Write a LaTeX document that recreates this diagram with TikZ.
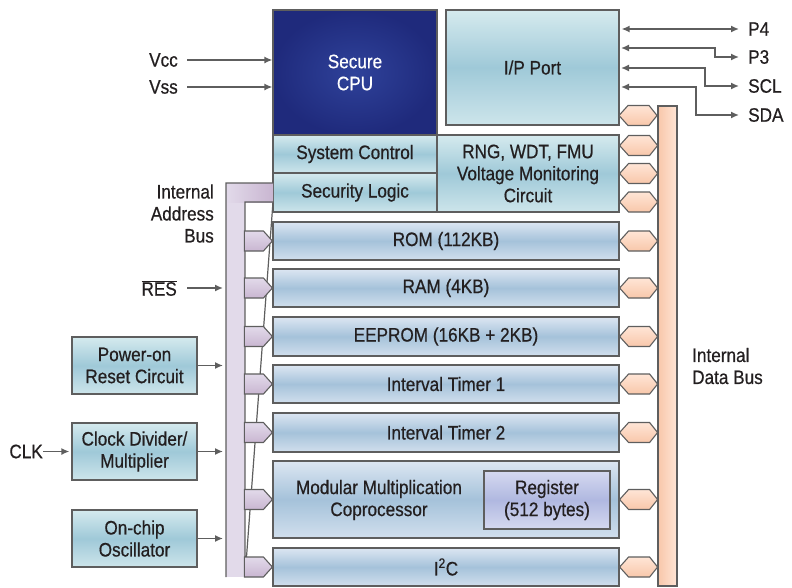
\documentclass[tikz,border=0pt]{standalone}
\usepackage{fontspec}
\setmainfont[FakeStretch=0.88, FakeBold=0.6]{Liberation Sans}
\usetikzlibrary{arrows.meta}

\definecolor{linegray}{HTML}{5E5E5E}
\definecolor{inkblack}{HTML}{231F20}
\definecolor{cpudark}{HTML}{1F2A7C}
\definecolor{cpulight}{HTML}{2F429A}
\definecolor{tealtop}{HTML}{D5EAEE}
\definecolor{tealmid}{HTML}{9FC9D8}
\definecolor{bluetop}{HTML}{DCE6F2}
\definecolor{bluemid}{HTML}{A5C2DA}
\definecolor{regtop}{HTML}{D5D9F0}
\definecolor{regmid}{HTML}{B0B8E0}
\definecolor{peachdark}{HTML}{F8C7AA}
\definecolor{peachlight}{HTML}{FFE5D6}
\definecolor{lilac}{HTML}{E2DAEA}
\definecolor{lilacdark}{HTML}{C9B6D1}

\tikzset{
  blk/.style={draw=linegray, line width=1.2pt, inner sep=0pt, align=center, text=inkblack},
  tealblk/.style={blk, top color=tealtop, bottom color=tealtop!85!tealmid, middle color=tealmid},
  rowblk/.style={blk, top color=bluetop, bottom color=bluetop!80!bluemid, middle color=bluemid,
    minimum width=346pt},
  regblk/.style={blk, top color=regtop, bottom color=regtop, middle color=regmid},
  lbl/.style={inner sep=0pt, text=inkblack, align=center},
  sig/.style={draw=linegray, line width=1.5pt, -{Latex[length=8pt,width=7pt]}},
  sigboth/.style={draw=linegray, line width=1.5pt, {Latex[length=8pt,width=7pt]}-{Latex[length=8pt,width=7pt]}},
  datahex/.style={draw=linegray, line width=1.1pt, top color=peachlight, bottom color=peachdark},
  addrtab/.style={draw=linegray, line width=1.1pt, top color=lilac, bottom color=lilacdark}
}

\begin{document}
\begin{tikzpicture}[x=1pt, y=-1pt, font=\fontsize{19.5}{22}\selectfont]
\useasboundingbox (0,0) rectangle (792,587);

% top blocks
\node[blk, draw=linegray, inner color=cpulight, outer color=cpudark, text=white,
  minimum width=164pt, minimum height=125pt] (cpu) at (355,72.5) {Secure\\CPU};
\node[tealblk, minimum width=164pt, minimum height=38pt] (sysctl) at (355,154) {System Control};
\node[tealblk, minimum width=164pt, minimum height=39pt] (seclogic) at (355,192.5) {Security Logic};
\node[tealblk, minimum width=182pt, minimum height=77pt] (rng) at (528,173.5)
  {RNG, WDT, FMU\\Voltage Monitoring\\Circuit};
\node[tealblk, minimum width=173pt, minimum height=115pt] (ipport) at (532.5,67.5) {I/P Port};

% memory and peripherals
\node[rowblk, minimum height=38pt] (rom) at (446,241) {ROM (112KB)};
\node[rowblk, minimum height=38pt] (ram) at (446,288) {RAM (4KB)};
\node[rowblk, minimum height=39pt] (eeprom) at (446,336.5) {EEPROM (16KB + 2KB)};
\node[rowblk, minimum height=38pt] (timer1) at (446,384) {Interval Timer 1};
\node[rowblk, minimum height=39pt] (timer2) at (446,432.5) {Interval Timer 2};
\node[rowblk, minimum height=77pt] (mmc) at (446,499.5) {};
\node[lbl] (mmctext) at (379,500) {Modular Multiplication\\Coprocessor};
\node[regblk, minimum width=126pt, minimum height=58pt] (reg) at (547,500) {Register\\(512 bytes)};
\node[rowblk, minimum height=38pt] (iic) at (446,567) {I\textsuperscript{2}C};

% clock and reset
\node[tealblk, minimum width=125pt, minimum height=57pt] (pwr) at (134.5,365.5) {Power-on\\Reset Circuit};
\node[tealblk, minimum width=125pt, minimum height=57pt] (clkdiv) at (134.5,451.5) {Clock Divider/\\Multiplier};
\node[tealblk, minimum width=125pt, minimum height=57pt] (osc) at (134.5,538.5) {On-chip\\Oscillator};

% internal address bus
\coordinate (abus) at (226,380);
\fill[lilac] (226,183) rectangle (245,577);
\shade[left color=lilac, right color=lilacdark] (226,183) rectangle (273,202);
\draw[linegray, line width=1.2pt] (226,577) -- (226,183) -- (273,183)
  (273,202) -- (245,202) -- (245,577) -- cycle;
\foreach \blk in {rom,ram,eeprom,timer1,timer2,mmc,iic}
  \draw[addrtab] (\blk.west) -- ++(-9,-10) -- ++(-19,0) -- ++(0,20) -- ++(19,0) -- cycle;

% internal data bus
\draw[linegray, line width=1.2pt, left color=peachdark, right color=peachlight] (658,106) rectangle (677,586);
\coordinate (hexio) at (619,115.5);
\draw[datahex] (hexio) -- ++(9,-10) -- ++(21,0) -- ++(8,10) -- ++(-8,10) -- ++(-21,0) -- cycle;
\foreach \dy in {-28.5,0,28}
  \draw[datahex] ([yshift=\dy pt]rng.east) -- ++(9,-10) -- ++(21,0) -- ++(8,10) -- ++(-8,10) -- ++(-21,0) -- cycle;
\foreach \blk in {rom,ram,eeprom,timer1,timer2,mmc,iic}
  \draw[datahex] (\blk.east) -- ++(9,-10) -- ++(21,0) -- ++(8,10) -- ++(-8,10) -- ++(-21,0) -- cycle;

% labels
\node[lbl, anchor=east, align=right] (abuslbl) at (214,213.5) {Internal\\Address\\Bus};
\node[lbl, anchor=west, align=left] (dbuslbl) at (692,366) {Internal\\Data Bus};
\node[lbl, anchor=east, inner xsep=9pt] (vcc) at (187,60) {Vcc};
\node[lbl, anchor=east, inner xsep=9pt] (vss) at (187,87) {Vss};
\node[lbl, anchor=east, inner xsep=10pt] (res) at (187,288) {$\overline{\mbox{RES}}$};
\node[lbl, anchor=east, inner xsep=0pt] (clk) at (43,451.5) {CLK};
\node[lbl, anchor=west, inner xsep=9pt] (p4) at (739,29) {P4};
\node[lbl, anchor=west, inner xsep=9pt] (p3) at (739,57) {P3};
\node[lbl, anchor=west, inner xsep=9pt] (scl) at (739,86) {SCL};
\node[lbl, anchor=west, inner xsep=9pt] (sda) at (739,115) {SDA};

% signals
\draw[sig] (vcc.east) -- (vcc.east -| cpu.west);
\draw[sig] (vss.east) -- (vss.east -| cpu.west);
\draw[sig, shorten >=3pt] (res.east) -- (res.east -| abus);
\draw[sig, shorten >=3pt] (pwr.east) -- (pwr.east -| abus);
\draw[sig, shorten >=3pt] (clkdiv.east) -- (clkdiv.east -| abus);
\draw[sig, shorten >=3pt] (osc.east) -- (osc.east -| abus);
\draw[sig, shorten >=2pt] (clk.east) -- (clkdiv.west);

\coordinate (p3in) at (619,48);
\coordinate (sclin) at (619,68);
\coordinate (sdain) at (619,87);
\draw[sigboth, shorten <=2pt] (p4.west -| ipport.east) -- (p4.west);
\draw[sigboth, shorten <=2pt] (p3in) -- ++(96,0) |- (p3.west);
\draw[sigboth, shorten <=2pt] (sclin) -- ++(86,0) |- (scl.west);
\draw[sigboth, shorten <=2pt] (sdain) -- ++(77,0) |- (sda.west);
\end{tikzpicture}
\end{document}
